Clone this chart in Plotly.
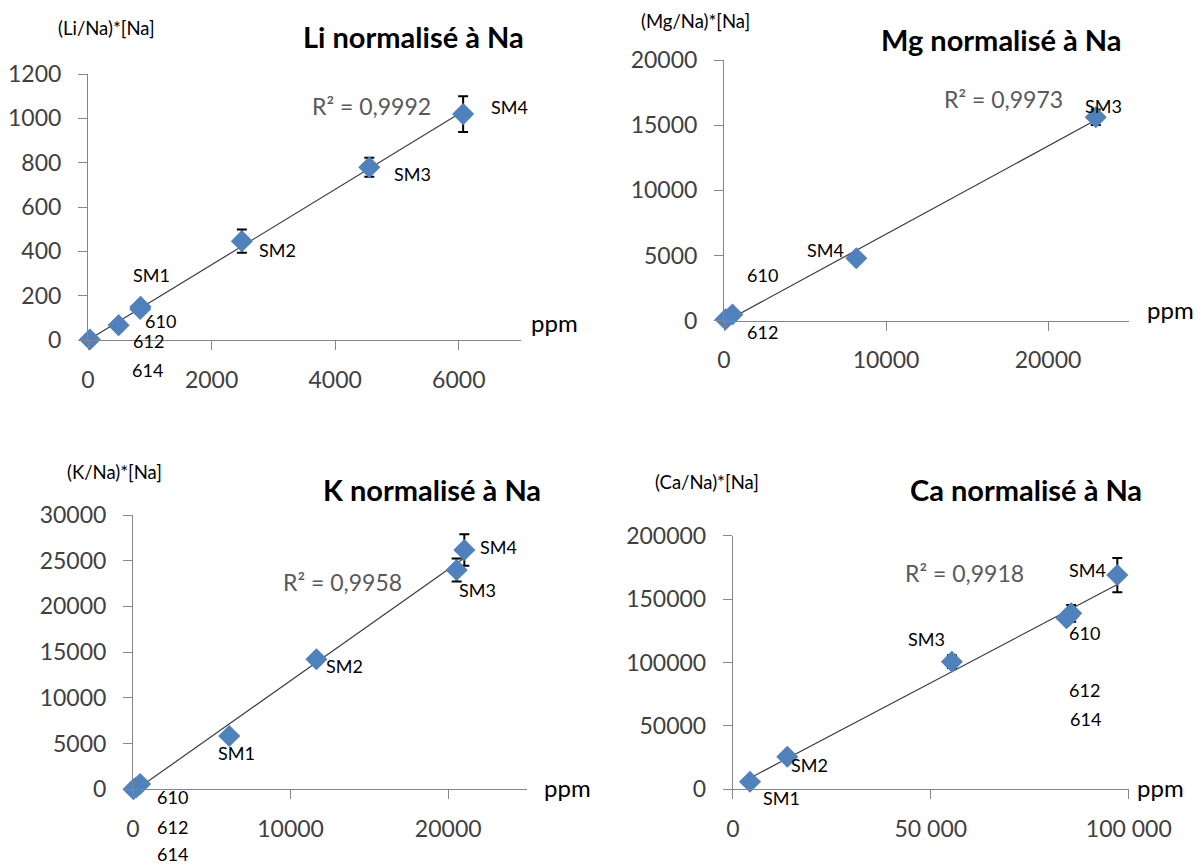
import numpy as np
import plotly.graph_objects as go

# ---------------- data ----------------
li_names = ["614", "612", "610", "SM1", "SM2", "SM3", "SM4"]
li_x = [30, 495, 845, 850, 2490, 4552, 6070]
li_y = [2, 67, 140, 150, 446, 779, 1019]
li_err = [0, 0, 0, 0, 52, 43, 81]

mg_names = ["612", "610", "SM4", "SM3"]
mg_x = [90, 520, 8166, 22950]
mg_y = [100, 470, 4787, 15605]
mg_err = [0, 0, 0, 600]

k_names = ["614", "612", "610", "SM1", "SM2", "SM3", "SM4"]
k_x = [30, 200, 450, 6108, 11637, 20535, 21025]
k_y = [0, 200, 580, 5830, 14217, 23985, 26170]
k_err = [0, 0, 0, 0, 0, 1270, 1730]

ca_names = ["SM1", "SM2", "SM3", "610", "612", "614", "SM4"]
ca_x = [4343, 13760, 55330, 84270, 85450, 84800, 97100]
ca_y = [5990, 25710, 100630, 134850, 138800, 136500, 169000]
ca_err = [0, 0, 5000, 0, 6600, 0, 13500]

titles = ["Li normalisé à Na", "Mg normalisé à Na", "K normalisé à Na", "Ca normalisé à Na"]
ylabels = ["(Li/Na)*[Na]", "(Mg/Na)*[Na]", "(K/Na)*[Na]", "(Ca/Na)*[Na]"]
r2_texts = ["R² = 0,9992", "R² = 0,9973", "R² = 0,9958", "R² = 0,9918"]
unit_text = "ppm"

li_xticks = [0, 2000, 4000, 6000]
mg_xticks = [0, 10000, 20000]
k_xticks = [0, 10000, 20000]
ca_xticks = [0, 50000, 100000]
ca_xticktext = ["0", "50 000", "100 000"]

# ---------------- layout / style ----------------
# The page body has an 8px margin, so the figure is drawn 8px in from the
# window's top-left corner; positions below are window pixels.
PAGE_OFF = 8
W, H = 1203 - PAGE_OFF, 866 - PAGE_OFF
FONT = "Lato"
BLUE = "#4F81BD"
AX = "#868686"
TICKFONT = dict(family=FONT, size=23, color="#404040")

# label pixel offsets (dx, dy) relative to each point
li_off = [(58, -30), (30, -16), (20, -12), (11, 32), (36, -9), (43, -7), (46, 7)]
mg_off = [(37, -13), (30, 40), (-31, 8), (8, 11)]
k_off = [(39, -65), (36, -40), (32, -13), (7, -17), (28, -7), (21, -20), (34, 3)]
ca_off = [(31, -16), (22, -8), (-25, 23), (18, -15), (13, -77), (17, -103), (-30, 5)]

def px(x):
    return (x - PAGE_OFF) / W

def py(y):
    return 1 - (y - PAGE_OFF) / H

panels = [
    dict(name=li_names, x=li_x, y=li_y, err=li_err, off=li_off,
         xd=[88, 520.6], yd=[74, 340], xr=[0, 7000], yr=[0, 1200], ydt=200,
         xt=li_xticks, xtt=None,
         title=(413, 36), ylab=(106, 28), r2=(371, 106), ppm=(554, 323)),
    dict(name=mg_names, x=mg_x, y=mg_y, err=mg_err, off=mg_off,
         xd=[724, 1129], yd=[60, 320.7], xr=[0, 25000], yr=[0, 20000], ydt=5000,
         xt=mg_xticks, xtt=None,
         title=(1001, 40), ylab=(695, 21), r2=(1003, 99), ppm=(1170, 310)),
    dict(name=k_names, x=k_x, y=k_y, err=k_err, off=k_off,
         xd=[133, 527], yd=[515, 789.3], xr=[0, 25000], yr=[0, 30000], ydt=5000,
         xt=k_xticks, xtt=None,
         title=(432, 490), ylab=(114, 472), r2=(342, 582), ppm=(567, 787)),
    dict(name=ca_names, x=ca_x, y=ca_y, err=ca_err, off=ca_off,
         xd=[732.8, 1128.8], yd=[535.7, 789.3], xr=[0, 100000], yr=[0, 200000], ydt=50000,
         xt=ca_xticks, xtt=ca_xticktext,
         title=(1026, 490), ylab=(707, 482), r2=(964, 573), ppm=(1160, 787)),
]

fig = go.Figure()
annotations = []
layout_axes = {}

for i, p in enumerate(panels):
    n = i + 1
    xa = "x" if n == 1 else f"x{n}"
    ya = "y" if n == 1 else f"y{n}"
    xs = np.array(p["x"], dtype=float)
    ys = np.array(p["y"], dtype=float)

    # linear trend line (least squares) spanning the data range
    slope, icpt = np.polyfit(xs, ys, 1)
    tx = np.array([xs.min(), xs.max()])
    fig.add_trace(go.Scatter(x=tx, y=slope * tx + icpt, mode="lines",
                             line=dict(color="#3c3c3c", width=1.2),
                             xaxis=xa, yaxis=ya, showlegend=False,
                             hoverinfo="skip", cliponaxis=False))
    fig.add_trace(go.Scatter(x=xs, y=ys, mode="markers",
                             marker=dict(symbol="diamond", size=17, color=BLUE,
                                         line=dict(width=0)),
                             error_y=dict(type="data", array=p["err"], visible=True,
                                          color="black", thickness=2, width=5),
                             xaxis=xa, yaxis=ya, showlegend=False, cliponaxis=False))

    for lbl, xv, yv, (dx, dy) in zip(p["name"], p["x"], p["y"], p["off"]):
        annotations.append(dict(x=xv, y=yv, xref=xa, yref=ya, text=lbl,
                                showarrow=False, xshift=dx, yshift=dy,
                                font=dict(family=FONT, size=18, color="black")))

    xkey = "xaxis" if n == 1 else f"xaxis{n}"
    ykey = "yaxis" if n == 1 else f"yaxis{n}"
    xaxis = dict(domain=[px(p["xd"][0]), px(p["xd"][1])], range=p["xr"],
                 anchor=ya, showline=True, linecolor=AX, linewidth=1,
                 ticks="outside", ticklen=9, tickcolor=AX, tickwidth=1,
                 showgrid=False, zeroline=False, tickvals=p["xt"],
                 ticktext=p["xtt"] if p["xtt"] is not None else [str(v) for v in p["xt"]],
                 tickfont=TICKFONT, ticklabelstandoff=10, fixedrange=True,
                 automargin=False)
    yaxis = dict(domain=[py(p["yd"][1]), py(p["yd"][0])], range=p["yr"],
                 anchor=xa, showline=True, linecolor=AX, linewidth=1,
                 ticks="outside", ticklen=9, tickcolor=AX, tickwidth=1,
                 showgrid=False, zeroline=False, dtick=p["ydt"], tick0=0,
                 tickfont=TICKFONT, ticklabelstandoff=12, tickformat="d",
                 fixedrange=True, automargin=False)
    layout_axes[xkey] = xaxis
    layout_axes[ykey] = yaxis

    tx_, ty_ = p["title"]
    annotations.append(dict(x=px(tx_), y=py(ty_), xref="paper", yref="paper",
                            text=f"<b>{titles[i]}</b>", showarrow=False,
                            xanchor="center", yanchor="middle",
                            font=dict(family=FONT, size=29, color="black")))
    lx, ly = p["ylab"]
    annotations.append(dict(x=px(lx), y=py(ly), xref="paper", yref="paper",
                            text=ylabels[i], showarrow=False,
                            xanchor="center", yanchor="middle",
                            font=dict(family=FONT, size=18.5, color="black")))
    rx, ry = p["r2"]
    annotations.append(dict(x=px(rx), y=py(ry), xref="paper", yref="paper",
                            text=r2_texts[i], showarrow=False,
                            xanchor="center", yanchor="middle",
                            font=dict(family=FONT, size=23, color="#595959")))
    ux, uy = p["ppm"]
    annotations.append(dict(x=px(ux), y=py(uy), xref="paper", yref="paper",
                            text=unit_text, showarrow=False,
                            xanchor="center", yanchor="middle",
                            font=dict(family=FONT, size=24, color="black")))

fig.update_layout(width=W, height=H,
                  margin=dict(l=0, r=0, t=0, b=0, pad=0, autoexpand=False),
                  paper_bgcolor="white", plot_bgcolor="white",
                  annotations=annotations, showlegend=False,
                  font=dict(family=FONT), **layout_axes)

fig.write_html("out.html")
